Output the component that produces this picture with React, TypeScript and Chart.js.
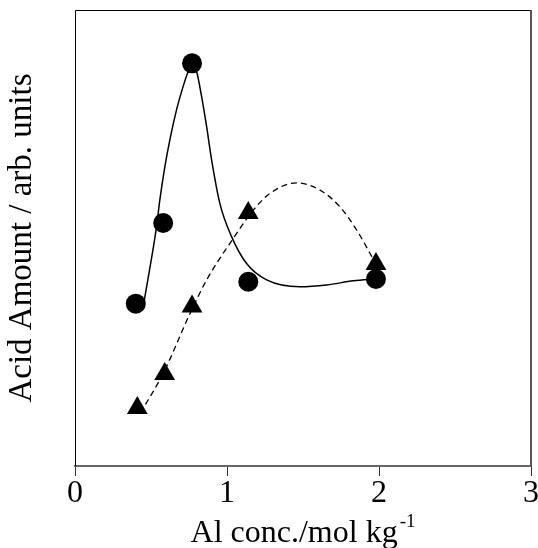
import React, { useEffect, useRef } from "react";
import { Chart, registerables } from "chart.js";

Chart.register(...registerables);

const FONT = '"Liberation Serif", "Times New Roman", serif';

// measured markers
const circleX = [0.40, 0.58, 0.77, 1.14, 1.98];
const circleY = [35.6, 53.3, 88.3, 40.4, 41.0];
const triangleX = [0.41, 0.59, 0.77, 1.14, 1.98];
const triangleY = [12.7, 20.2, 35.0, 55.5, 44.3];

// fitted curves
const solidCurveX = [0.45, 0.49, 0.536, 0.558, 0.591, 0.624, 0.668, 0.711, 0.744, 0.767, 0.8, 0.833, 0.866, 0.899, 0.953, 1.03, 1.129, 1.261, 1.48, 1.656, 1.831, 1.98];
const solidCurveY = [35.3, 42.9, 52.4, 58.3, 65.6, 71.5, 78.1, 83.2, 86.5, 88.3, 86.5, 81.0, 74.4, 67.1, 57.6, 50.3, 44.4, 40.8, 39.3, 39.7, 40.6, 41.0];
const dashedCurveX = [0.43, 0.58, 0.756, 0.866, 1.041, 1.173, 1.283, 1.458, 1.612, 1.744, 1.854, 1.953, 1.98];
const dashedCurveY = [11.6, 20.3, 33.4, 40.8, 49.9, 56.1, 59.8, 62.1, 60.5, 56.8, 51.7, 45.9, 44.3];

const xTicks = [0, 1, 2, 3];
const xTitleMain = "Al conc./mol kg";
const xTitleSup = "-1";
const yTitle = "Acid Amount / arb. units";

const zip = (xs: number[], ys: number[]) => xs.map((x, i) => ({ x, y: ys[i] }));

const framePlugin = {
  id: "frame",
  afterDraw(chart: any) {
    const { ctx, chartArea } = chart;
    const { left, right, top, bottom } = chartArea;
    ctx.save();
    ctx.strokeStyle = "#000";
    ctx.lineWidth = 1;
    ctx.beginPath();
    ctx.moveTo(Math.round(left) + 0.5, bottom);
    ctx.lineTo(Math.round(left) + 0.5, Math.round(top) + 0.5);
    ctx.lineTo(right, Math.round(top) + 0.5);
    ctx.stroke();
    ctx.strokeStyle = "#555";
    ctx.lineWidth = 2;
    ctx.beginPath();
    ctx.moveTo(Math.round(right), Math.round(top));
    ctx.lineTo(Math.round(right), bottom + 1);
    ctx.stroke();

    // x title with superscript
    ctx.fillStyle = "#000";
    ctx.textBaseline = "alphabetic";
    ctx.textAlign = "left";
    ctx.font = `32px ${FONT}`;
    const w1 = ctx.measureText(xTitleMain).width;
    ctx.font = `19px ${FONT}`;
    const w2 = ctx.measureText(xTitleSup).width;
    const total = w1 + 2 + w2;
    const sx = (left + right) / 2 - total / 2;
    const base = bottom + 76;
    ctx.font = `32px ${FONT}`;
    ctx.fillText(xTitleMain, sx, base);
    ctx.font = `19px ${FONT}`;
    ctx.fillText(xTitleSup, sx + w1 + 2, base - 15);
    ctx.restore();
  },
};

export default function App() {
  const ref = useRef<HTMLCanvasElement>(null);
  useEffect(() => {
    if (!ref.current) return;
    const chart = new Chart(ref.current, {
      type: "scatter",
      data: {
        datasets: [
          {
            data: zip(circleX, circleY),
            pointStyle: "circle",
            pointRadius: 10,
            pointBackgroundColor: "#000",
            pointBorderColor: "#000",
            pointBorderWidth: 0,
            showLine: false,
          },
          {
            data: zip(triangleX, triangleY),
            pointStyle: "triangle",
            pointRadius: 12,
            pointBackgroundColor: "#000",
            pointBorderColor: "#000",
            pointBorderWidth: 0,
            showLine: false,
          },
          {
            data: zip(solidCurveX, solidCurveY),
            showLine: true,
            pointRadius: 0,
            borderColor: "#000",
            borderWidth: 1.5,
            cubicInterpolationMode: "monotone",
          },
          {
            data: zip(dashedCurveX, dashedCurveY),
            showLine: true,
            pointRadius: 0,
            borderColor: "#000",
            borderWidth: 1.3,
            borderDash: [6, 4],
            cubicInterpolationMode: "monotone",
          },
        ],
      } as any,
      options: {
        animation: false,
        responsive: false,
        maintainAspectRatio: false,
        layout: { autoPadding: false, padding: { top: 10, right: 7, left: 0, bottom: 0 } },
        plugins: { legend: { display: false }, tooltip: { enabled: false } },
        scales: {
          x: {
            type: "linear",
            min: 0,
            max: 3,
            afterBuildTicks: (s: any) => {
              s.ticks = xTicks.map((v) => ({ value: v }));
            },
            ticks: {
              color: "#000",
              font: { family: FONT, size: 32 },
              padding: -2,
              maxRotation: 0,
              autoSkip: false,
            },
            grid: {
              drawOnChartArea: false,
              drawTicks: true,
              tickLength: 10,
              tickColor: "#333",
              tickWidth: 1,
            },
            border: { color: "#666", width: 2 },
            afterFit: (s: any) => {
              s.height = 82;
              s.paddingLeft = 0;
              s.paddingRight = 0;
            },
          },
          y: {
            type: "linear",
            min: 0,
            max: 100,
            ticks: { display: false },
            grid: { display: false },
            border: { display: false },
            title: {
              display: true,
              text: yTitle,
              color: "#000",
              font: { family: FONT, size: 33 },
              padding: { top: 3, bottom: 0 },
            },
            afterFit: (s: any) => {
              s.width = 75;
              s.paddingTop = 0;
              s.paddingBottom = 0;
            },
          },
        },
      } as any,
      plugins: [framePlugin],
    });
    return () => chart.destroy();
  }, []);
  return (
    <div style={{ position: "absolute", left: 0, top: 0, width: 538, height: 548, background: "#fff" }}>
      <canvas ref={ref} width={538} height={548} style={{ display: "block" }} />
    </div>
  );
}
